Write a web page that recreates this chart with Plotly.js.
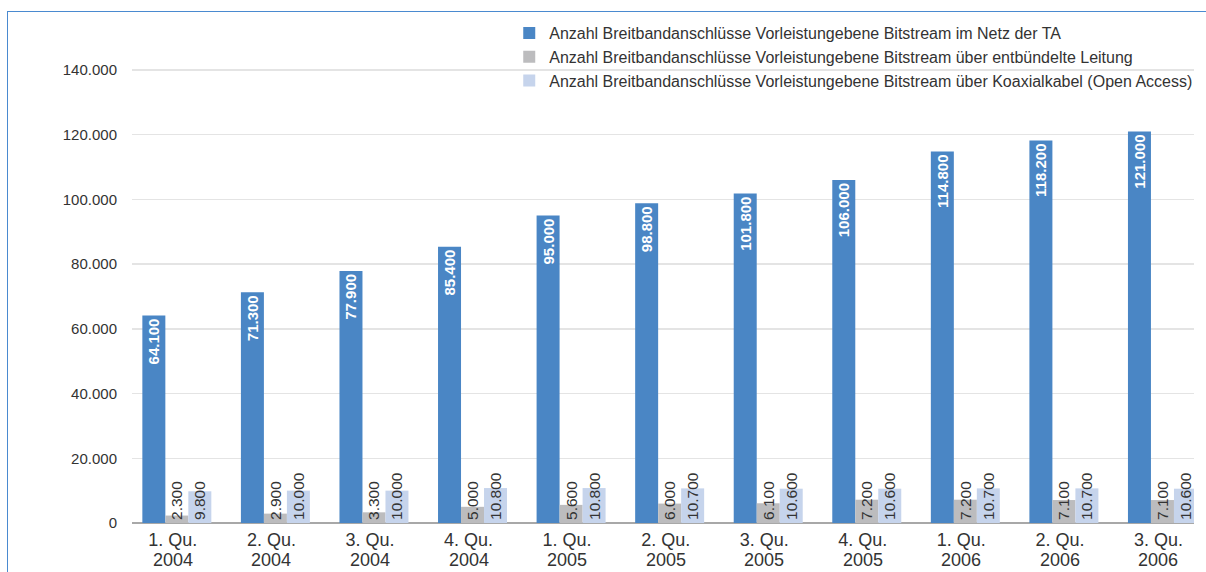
<!DOCTYPE html>
<html>
<head>
<meta charset="utf-8">
<script src="https://cdn.plot.ly/plotly-3.0.1.min.js"></script>
<style>
  html, body { margin: 0; padding: 0; background: #fff; }
  #wrap { position: relative; width: 1206px; height: 572px; overflow: hidden; }
  #chart { position: absolute; left: 0; top: 0; width: 1206px; height: 572px; }
  #frame { position: absolute; left: 7px; top: 11px; width: 1210px; height: 600px;
           border-left: 1.5px solid #4a8ad0; border-top: 1.5px solid #4a8ad0; pointer-events: none; }
</style>
</head>
<body>
<div id="wrap">
  <div id="chart"></div>
  <div id="frame"></div>
</div>
<script>
const quarters = ['1. Qu.', '2. Qu.', '3. Qu.', '4. Qu.', '1. Qu.', '2. Qu.', '3. Qu.', '4. Qu.', '1. Qu.', '2. Qu.', '3. Qu.'];
const years = ['2004', '2004', '2004', '2004', '2005', '2005', '2005', '2005', '2006', '2006', '2006'];
const categories = quarters.map((q, i) => q + ' ' + years[i]);

const seriesNames = [
  'Anzahl Breitbandanschlüsse Vorleistungebene Bitstream im Netz der TA',
  'Anzahl Breitbandanschlüsse Vorleistungebene Bitstream über entbündelte Leitung',
  'Anzahl Breitbandanschlüsse Vorleistungebene Bitstream über Koaxialkabel (Open Access)'
];
const netzTA = [64100, 71300, 77900, 85400, 95000, 98800, 101800, 106000, 114800, 118200, 121000];
const entbuendelt = [2300, 2900, 3300, 5000, 5600, 6000, 6100, 7200, 7200, 7100, 7100];
const koaxial = [9800, 10000, 10000, 10800, 10800, 10700, 10600, 10600, 10700, 10700, 10600];

const yTicks = [0, 20000, 40000, 60000, 80000, 100000, 120000, 140000];

const FONT = 'Liberation Sans, Arial, Helvetica, sans-serif';

const traces = [
  {
    type: 'bar', name: seriesNames[0], x: categories, y: netzTA,
    marker: { color: '#4a86c5' },
    texttemplate: '%{y:,.0f}', textposition: 'inside', insidetextanchor: 'end',
    textangle: -90, constraintext: 'none',
    insidetextfont: { color: '#ffffff', size: 15, family: FONT, weight: 'bold' },
    hoverinfo: 'skip'
  },
  {
    type: 'bar', name: seriesNames[1], x: categories, y: entbuendelt,
    marker: { color: '#bcbcbe' },
    texttemplate: '%{y:,.0f}', textposition: 'inside', insidetextanchor: 'start',
    textangle: -90, constraintext: 'none',
    insidetextfont: { color: '#333333', size: 15.5, family: FONT },
    hoverinfo: 'skip'
  },
  {
    type: 'bar', name: seriesNames[2], x: categories, y: koaxial,
    marker: { color: '#c6d4ec' },
    texttemplate: '%{y:,.0f}', textposition: 'inside', insidetextanchor: 'start',
    textangle: -90, constraintext: 'none',
    insidetextfont: { color: '#333333', size: 15.5, family: FONT },
    hoverinfo: 'skip'
  }
];

const annotations = years.map((yr, i) => ({
  x: categories[i], xref: 'x', y: 0, yref: 'paper',
  yanchor: 'top', xanchor: 'center', yshift: -25, xshift: -4,
  text: yr, showarrow: false,
  font: { family: FONT, size: 18, color: '#333333' }
}));

const layout = {
  width: 1206, height: 572,
  paper_bgcolor: '#ffffff', plot_bgcolor: '#ffffff',
  margin: { l: 132, r: 12, t: 25, b: 49, autoexpand: false },
  separators: ',.',
  barmode: 'group', bargap: 0.3, bargroupgap: 0,
  font: { family: FONT, color: '#333333' },
  showlegend: true,
  legend: {
    x: 1.004, xanchor: 'right', y: 1.018, yanchor: 'top',
    font: { size: 16, color: '#333333', family: FONT },
    bgcolor: 'rgba(255,255,255,0)', tracegroupgap: 0, itemwidth: 30,
    traceorder: 'normal'
  },
  xaxis: {
    type: 'category',
    range: [-0.455, 10.32],
    tickvals: categories, ticktext: quarters, tickangle: 0,
    tickfont: { size: 18, color: '#333333', family: FONT },
    ticklabelshift: -4, ticklabelstandoff: 4,
    showgrid: false, zeroline: false, showline: false, ticks: ''
  },
  yaxis: {
    range: [0, 153900],
    tickvals: yTicks, tickformat: ',.0f',
    tickfont: { size: 15, color: '#333333', family: FONT },
    showgrid: true, gridcolor: '#e4e4e4', gridwidth: 1.5,
    zeroline: true, zerolinecolor: '#a8a8a8', zerolinewidth: 1.5,
    showline: false, ticks: '', ticklabelstandoff: 14
  },
  annotations: annotations
};

Plotly.newPlot('chart', traces, layout, { displayModeBar: false, staticPlot: true });
</script>
</body>
</html>
